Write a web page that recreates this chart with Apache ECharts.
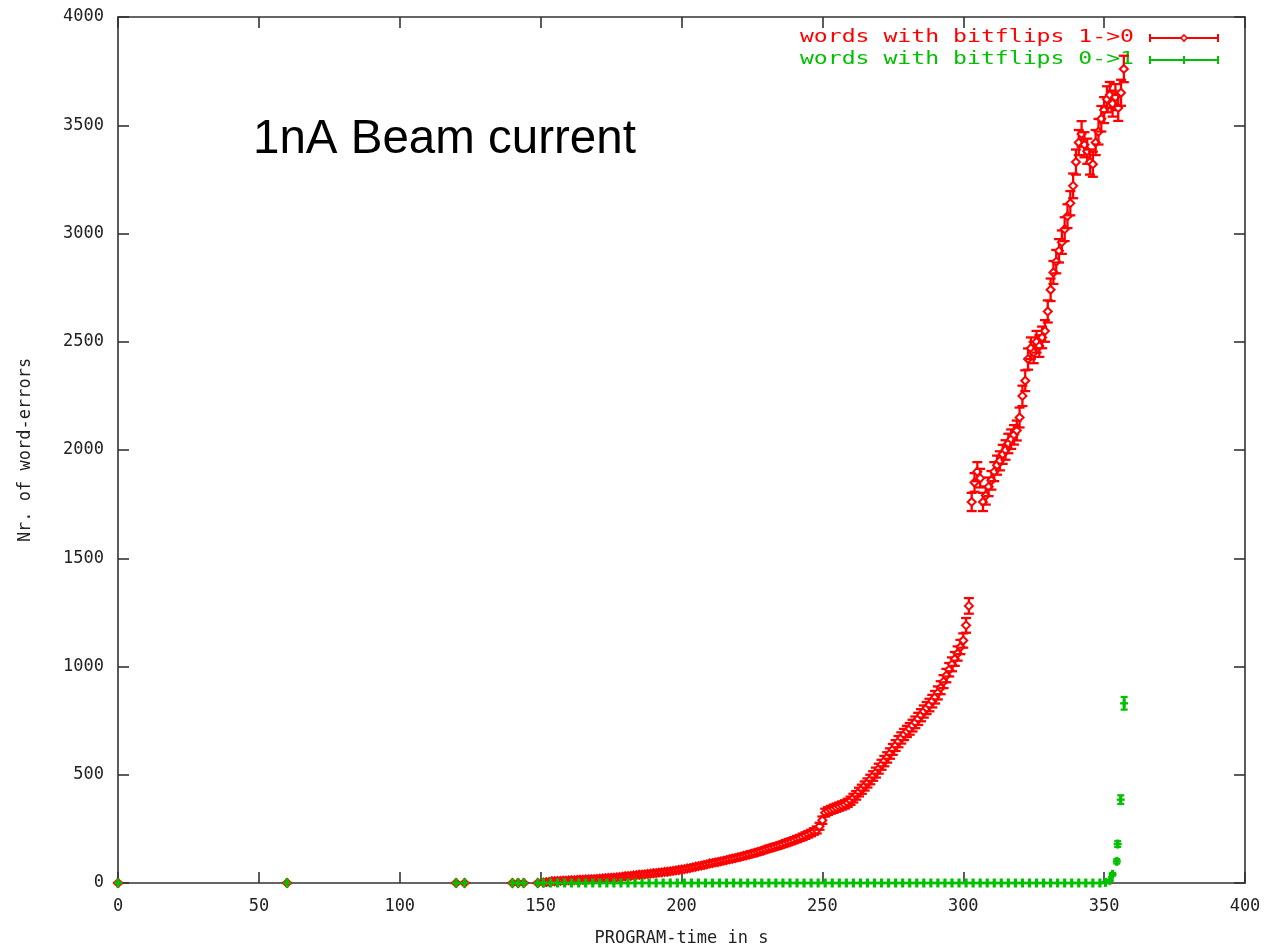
<!DOCTYPE html>
<html><head><meta charset="utf-8">
<script src="https://cdn.jsdelivr.net/npm/echarts@6/dist/echarts.min.js"></script>
<style>html,body{margin:0;padding:0;background:#fff}#c{width:1267px;height:949px}</style>
</head><body><div id="c"></div>
<script>
// ---------- axis ticks ----------
const xTickLabels = [0, 50, 100, 150, 200, 250, 300, 350, 400];
const yTickLabels = [0, 500, 1000, 1500, 2000, 2500, 3000, 3500, 4000];

// ---------- series: words with bitflips 1->0 (red) ----------
const redTimes = [0, 60, 120, 123, 140, 142, 144, 149,
  151,152,153,154,155,156,157,158,159,160,
  161,162,163,164,165,166,167,168,169,170,
  171,172,173,174,175,176,177,178,179,180,
  181,182,183,184,185,186,187,188,189,190,
  191,192,193,194,195,196,197,198,199,200,
  201,202,203,204,205,206,207,208,209,210,
  211,212,213,214,215,216,217,218,219,220,
  221,222,223,224,225,226,227,228,229,230,
  231,232,233,234,235,236,237,238,239,240,
  241,242,243,244,245,246,247,248,249,250,
  251,252,253,254,255,256,257,258,259,260,
  261,262,263,264,265,266,267,268,269,270,
  271,272,273,274,275,276,277,278,279,280,
  281,282,283,284,285,286,287,288,289,290,
  291,292,293,294,295,296,297,298,299,300,
  301,302,
  303,304,305,306,307,308,309,310,311,312,
  313,314,315,316,317,318,319,320,321,322,
  323,324,325,326,327,328,329,330,331,332,
  333,334,335,336,337,338,339,340,341,342,
  343,344,345,346,347,348,349,350,351,352,
  353,354,355,356,357];
const redValues = [0, 0, 0, 0, 0, 0, 0, 0,
  2,4,5,8,8,9,10,11,11,12,
  13,13,14,15,15,16,17,17,18,19,
  20,21,22,23,24,25,26,27,29,31,
  32,33,35,36,38,39,40,42,43,45,
  46,48,49,51,52,54,56,58,60,62,
  64,67,69,72,75,78,80,83,86,90,
  92,95,97,100,103,106,109,112,115,118,
  121,125,128,131,135,139,142,146,150,155,
  159,163,167,171,175,179,184,189,193,198,
  203,208,213,219,225,231,238,245,262,290,
  325,332,338,343,348,353,358,363,370,380,
  392,405,420,433,448,462,478,494,510,528,
  546,563,580,598,617,635,653,670,686,700,
  712,727,742,758,775,792,808,822,840,858,
  878,902,930,958,985,1010,1035,1060,1090,1120,
  1190,1280,
  1760,1850,1900,1870,1760,1790,1830,1860,1900,1930,
  1950,1980,2000,2030,2050,2070,2090,2150,2250,2320,
  2420,2470,2450,2500,2480,2520,2550,2640,2740,2820,
  2870,2920,2960,3020,3080,3140,3220,3330,3420,3460,
  3410,3380,3330,3320,3420,3470,3530,3570,3620,3640,
  3600,3630,3580,3650,3760];
const redErrors = [0, 0, 0, 0, 0, 0, 0, 0,
  1,2,2,3,3,3,3,3,3,3,
  4,4,4,4,4,4,4,4,4,4,
  4,5,5,5,5,5,5,5,5,6,
  6,6,6,6,6,6,6,6,7,7,
  7,7,7,7,7,7,7,8,8,8,
  8,8,8,8,9,9,9,9,9,9,
  10,10,10,10,10,10,10,11,11,11,
  11,11,11,11,12,12,12,12,12,12,
  13,13,13,13,13,13,14,14,14,14,
  14,14,15,15,15,15,15,16,16,17,
  18,18,18,19,19,19,19,19,19,19,
  20,20,20,21,21,21,22,22,23,23,
  23,24,24,24,25,25,26,26,26,26,
  27,27,27,28,28,28,28,29,29,29,
  30,30,30,31,31,32,32,33,33,33,
  34,36,
  42,43,44,43,42,42,43,43,44,44,
  44,44,45,45,45,45,46,46,47,48,
  49,50,49,50,50,50,50,51,52,53,
  54,54,54,55,55,56,57,58,58,59,
  58,58,58,58,58,59,59,60,60,60,
  60,60,60,60,61];

// ---------- series: words with bitflips 0->1 (green) ----------
const greenTimes = [0, 60, 120, 123, 140, 142, 144, 149,
  151,153.5,156,158.5,161,163.5,166,168.5,171,173.5,
  176,178.5,181,183.5,186,188.5,191,193.5,196,198.5,
  201,203.5,206,208.5,211,213.5,216,218.5,221,223.5,
  226,228.5,231,233.5,236,238.5,241,243.5,246,248.5,
  251,253.5,256,258.5,261,263.5,266,268.5,271,273.5,
  276,278.5,281,283.5,286,288.5,291,293.5,296,298.5,
  301,303.5,306,308.5,311,313.5,316,318.5,321,323.5,
  326,328.5,331,333.5,336,338.5,341,343.5,346,348.5,
  350.5,352,353,354.5,354.8,355.9,357.1];
const greenValues = [0, 0, 0, 0, 0, 0, 0, 0,
  0,0,0,0,0,0,0,0,0,0,
  0,0,0,0,0,0,0,0,0,0,
  0,0,0,0,0,0,0,0,0,0,
  0,0,0,0,0,0,0,0,0,0,
  0,0,0,0,0,0,0,0,0,0,
  0,0,0,0,0,0,0,0,0,0,
  0,0,0,0,0,0,0,0,0,0,
  0,0,0,0,0,0,0,0,0,0,
  3,12,40,100,180,385,830];
const greenErrors = [0, 0, 0, 0, 0, 0, 0, 0,
  0,0,0,0,0,0,0,0,0,0,
  0,0,0,0,0,0,0,0,0,0,
  0,0,0,0,0,0,0,0,0,0,
  0,0,0,0,0,0,0,0,0,0,
  0,0,0,0,0,0,0,0,0,0,
  0,0,0,0,0,0,0,0,0,0,
  0,0,0,0,0,0,0,0,0,0,
  0,0,0,0,0,0,0,0,0,0,
  2,3,6,10,13,20,29];

const seriesNames = ['words with bitflips 1->0', 'words with bitflips 0->1'];
const titleText = '1nA Beam current';
const xAxisName = 'PROGRAM-time in s';
const yAxisName = 'Nr. of word-errors';

// ---------- build ----------
const RED = '#ff0000', GREEN = '#00c000', INK = '#222';
const MONO = '"DejaVu Sans Mono", "Liberation Mono", monospace';

function zip(t, v, e) { return t.map((x, i) => [x, v[i], e[i]]); }

function errorBarRenderer(color, marker) {
  return function (params, api) {
    const x = api.value(0), y = api.value(1), e = api.value(2);
    const p = api.coord([x, y]);
    const top = api.coord([x, y + e]);
    const bot = api.coord([x, y - e]);
    const hw = marker === 'diamond' ? 5 : 3.5;
    const s = { stroke: color, lineWidth: 2.3 };
    const children = [
      { type: 'line', shape: { x1: p[0], y1: top[1], x2: p[0], y2: bot[1] }, style: s },
      { type: 'line', shape: { x1: p[0] - hw, y1: top[1], x2: p[0] + hw, y2: top[1] }, style: s },
      { type: 'line', shape: { x1: p[0] - hw, y1: bot[1], x2: p[0] + hw, y2: bot[1] }, style: s }
    ];
    if (marker === 'diamond') {
      children.push({ type: 'polygon', shape: { points: [[p[0], p[1] - 4], [p[0] + 4, p[1]], [p[0], p[1] + 4], [p[0] - 4, p[1]]] },
        style: { fill: '#fff', stroke: color, lineWidth: 2 } });
    } else {
      children.push({ type: 'line', shape: { x1: p[0] - 4, y1: p[1], x2: p[0] + 4, y2: p[1] }, style: s });
      children.push({ type: 'line', shape: { x1: p[0], y1: p[1] - 4.5, x2: p[0], y2: p[1] + 4.5 }, style: { stroke: color, lineWidth: 3.2 } });
    }
    return { type: 'group', children };
  };
}

function legendEntry(y, color, marker, text) {
  const s = { stroke: color, lineWidth: 2 };
  const els = [
    { type: 'text', x: 1134, y: y, scaleX: 1.36, originX: 0, originY: 0,
      style: { text: text, fill: color, font: '17px ' + MONO, textAlign: 'right', textVerticalAlign: 'middle' } },
    { type: 'line', shape: { x1: 1150, y1: y, x2: 1218, y2: y }, style: s },
    { type: 'line', shape: { x1: 1150, y1: y - 4, x2: 1150, y2: y + 4 }, style: s },
    { type: 'line', shape: { x1: 1218, y1: y - 4, x2: 1218, y2: y + 4 }, style: s }
  ];
  if (marker === 'diamond') {
    els.push({ type: 'polygon', shape: { points: [[1184, y - 3], [1187, y], [1184, y + 3], [1181, y]] }, style: { fill: '#fff', stroke: color, lineWidth: 1.6 } });
  } else {
    els.push({ type: 'line', shape: { x1: 1184, y1: y - 4, x2: 1184, y2: y + 4 }, style: s });
  }
  return els;
}

const axisLineStyle = { color: '#333', width: 1.6 };
const labelStyle = { fontFamily: MONO, fontSize: 17, color: INK };
const plain = v => String(v);

const chart = echarts.init(document.getElementById('c'), null, { renderer: 'canvas' });
chart.setOption({
  animation: false,
  backgroundColor: '#fff',
  title: {
    text: titleText, left: 248, top: 111,
    textStyle: { fontFamily: '"Liberation Sans", Arial, sans-serif', fontSize: 47.5, fontWeight: 'normal', color: '#000' }
  },
  grid: { left: 118, right: 22, top: 17, bottom: 66, containLabel: false, outerBoundsMode: 'none' },
  xAxis: [{
    type: 'value', min: xTickLabels[0], max: xTickLabels[xTickLabels.length - 1], interval: 50, position: 'bottom',
    name: xAxisName, nameLocation: 'middle', nameGap: 47,
    nameTextStyle: labelStyle,
    axisLine: { show: true, onZero: false, lineStyle: axisLineStyle },
    axisTick: { show: true, inside: true, length: 11, lineStyle: axisLineStyle },
    axisLabel: Object.assign({ margin: 15, formatter: plain }, labelStyle),
    splitLine: { show: false }
  }, {
    type: 'value', min: xTickLabels[0], max: xTickLabels[xTickLabels.length - 1], interval: 50, position: 'top',
    axisLine: { show: true, onZero: false, lineStyle: axisLineStyle },
    axisTick: { show: true, inside: true, length: 11, lineStyle: axisLineStyle },
    axisLabel: { show: false }, splitLine: { show: false }
  }],
  yAxis: [{
    type: 'value', min: yTickLabels[0], max: yTickLabels[yTickLabels.length - 1], interval: 500, position: 'left',
    name: yAxisName, nameLocation: 'middle', nameGap: 84,
    nameTextStyle: labelStyle,
    axisLine: { show: true, onZero: false, lineStyle: axisLineStyle },
    axisTick: { show: true, inside: true, length: 11, lineStyle: axisLineStyle },
    axisLabel: Object.assign({ margin: 14, formatter: plain }, labelStyle),
    splitLine: { show: false }
  }, {
    type: 'value', min: yTickLabels[0], max: yTickLabels[yTickLabels.length - 1], interval: 500, position: 'right',
    axisLine: { show: true, onZero: false, lineStyle: axisLineStyle },
    axisTick: { show: true, inside: true, length: 11, lineStyle: axisLineStyle },
    axisLabel: { show: false }, splitLine: { show: false }
  }],
  series: [{
    name: seriesNames[0], type: 'custom', xAxisIndex: 0, yAxisIndex: 0, clip: false,
    renderItem: errorBarRenderer(RED, 'diamond'),
    encode: { x: 0, y: 1 },
    data: zip(redTimes, redValues, redErrors)
  }, {
    name: seriesNames[1], type: 'custom', xAxisIndex: 0, yAxisIndex: 0, clip: false,
    renderItem: errorBarRenderer(GREEN, 'plus'),
    encode: { x: 0, y: 1 },
    data: zip(greenTimes, greenValues, greenErrors)
  }],
  graphic: [].concat(
    legendEntry(38, RED, 'diamond', seriesNames[0]),
    legendEntry(60, GREEN, 'plus', seriesNames[1])
  )
});
</script>
</body></html>
